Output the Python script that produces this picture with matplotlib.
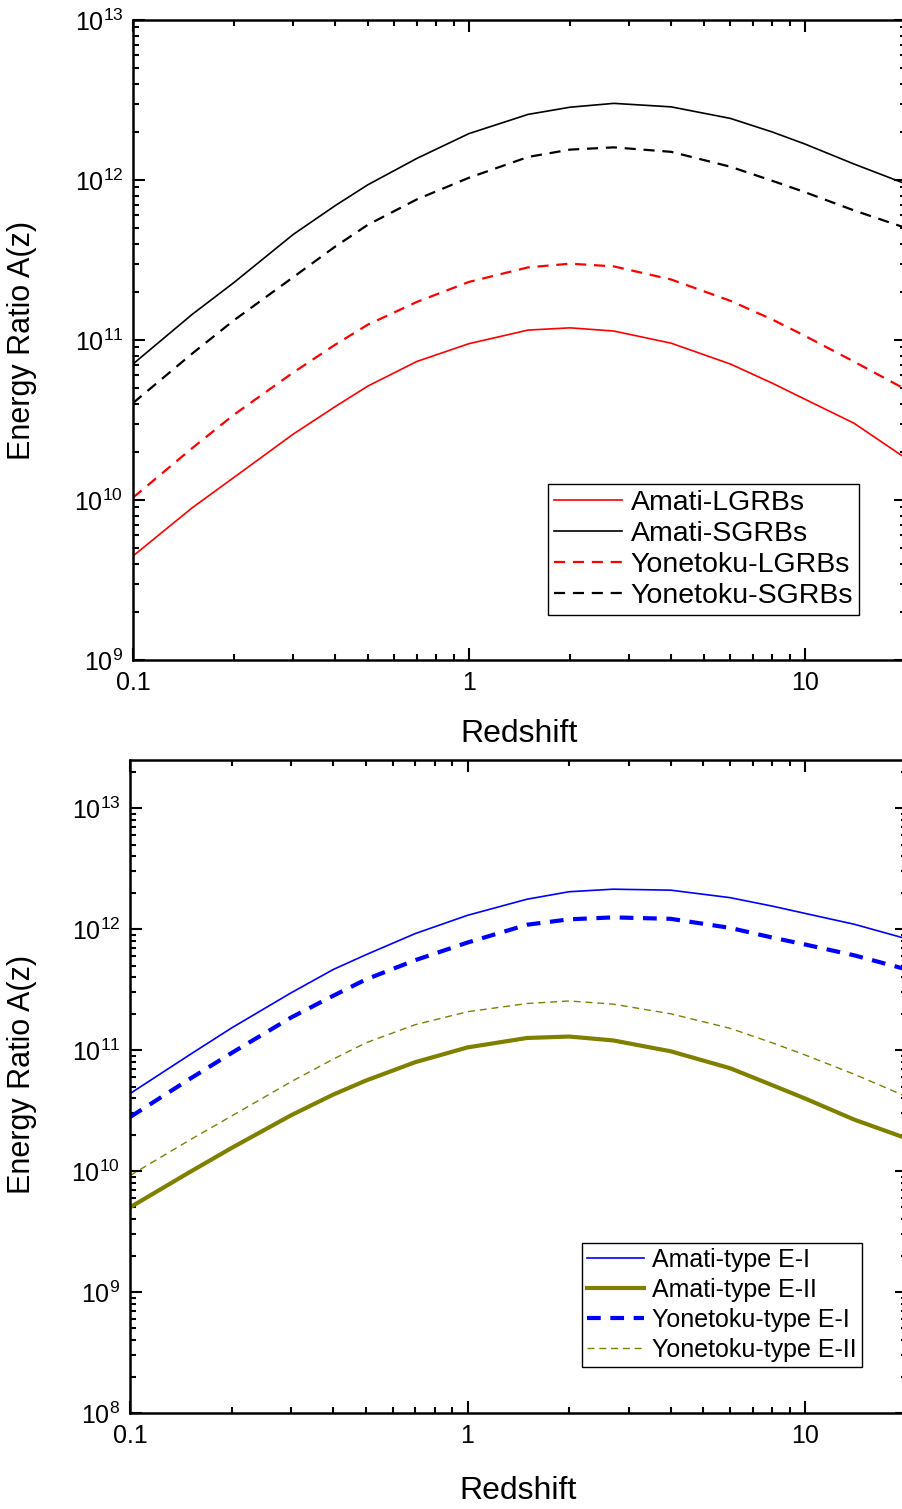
import numpy as np
import matplotlib
matplotlib.use("Agg")
import matplotlib.pyplot as plt
from matplotlib.ticker import LogLocator, NullFormatter

plt.rcParams['font.family'] = ['Liberation Sans', 'DejaVu Sans']
plt.rcParams['mathtext.default'] = 'regular'

# redshift grid the curves were read at
z = [0.1, 0.15, 0.2, 0.3, 0.4, 0.5, 0.7, 1, 1.5, 2, 2.7, 4, 6, 8, 10, 14, 20]

# top panel, log10 A(z)
logA_amati_lgrb = [9.65, 9.951, 10.142, 10.412, 10.584, 10.712, 10.866, 10.977, 11.062, 11.076, 11.056, 10.98, 10.85, 10.73, 10.63, 10.48, 10.26]
logA_amati_sgrb = [10.85, 11.16, 11.36, 11.66, 11.84, 11.97, 12.135, 12.29, 12.41, 12.455, 12.479, 12.457, 12.385, 12.30, 12.225, 12.10, 11.975]
logA_yone_lgrb = [10.015, 10.324, 10.534, 10.797, 10.971, 11.096, 11.238, 11.363, 11.454, 11.477, 11.46, 11.378, 11.245, 11.128, 11.026, 10.865, 10.69]
logA_yone_sgrb = [10.606, 10.915, 11.124, 11.393, 11.584, 11.72, 11.879, 12.014, 12.144, 12.19, 12.204, 12.176, 12.083, 11.995, 11.924, 11.81, 11.70]

# bottom panel
logA_amati_e1 = [10.64, 10.96, 11.183, 11.473, 11.666, 11.788, 11.963, 12.114, 12.247, 12.309, 12.33, 12.322, 12.26, 12.19, 12.13, 12.04, 11.92]
logA_amati_e2 = [9.70, 9.99, 10.191, 10.461, 10.632, 10.748, 10.90, 11.022, 11.10, 11.112, 11.08, 10.99, 10.85, 10.71, 10.60, 10.425, 10.27]
logA_yone_e1 = [10.446, 10.76, 10.976, 11.269, 11.449, 11.584, 11.743, 11.889, 12.036, 12.081, 12.097, 12.085, 12.01, 11.93, 11.873, 11.783, 11.667]
logA_yone_e2 = [9.963, 10.255, 10.455, 10.738, 10.925, 11.06, 11.21, 11.317, 11.385, 11.406, 11.38, 11.30, 11.18, 11.06, 10.96, 10.80, 10.615]

top_labels = ['Amati-LGRBs', 'Amati-SGRBs', 'Yonetoku-LGRBs', 'Yonetoku-SGRBs']
bottom_labels = ['Amati-type E-I', 'Amati-type E-II', 'Yonetoku-type E-I', 'Yonetoku-type E-II']


def style_axes(ax, ymin, ymax):
    ax.set_xscale('log')
    ax.set_yscale('log')
    ax.set_xlim(0.1, 20)
    ax.set_ylim(ymin, ymax)
    ax.yaxis.set_major_locator(LogLocator(base=10, numticks=20))
    ax.yaxis.set_minor_locator(LogLocator(base=10, subs=np.arange(2, 10), numticks=20))
    ax.yaxis.set_minor_formatter(NullFormatter())
    ax.xaxis.set_minor_formatter(NullFormatter())
    ax.tick_params(which='both', direction='in', top=True, right=True, width=1.5)
    ax.tick_params(which='major', length=8.5, labelsize=18)
    ax.tick_params(which='minor', length=4.5)
    ax.tick_params(axis='x', pad=8)
    ax.tick_params(axis='y', pad=7)
    for s in ax.spines.values():
        s.set_linewidth(1.8)
    ax.set_xticks([0.1, 1, 10])
    ax.set_xticklabels(['0.1', '1', '10'])
    ax.set_xlabel('Redshift', fontsize=23)
    ax.set_ylabel('Energy Ratio A(z)', fontsize=22)


fig = plt.figure(figsize=(9.03, 15.09), dpi=100)

# top panel
ax1 = fig.add_axes([133 / 903, 1 - 660 / 1509, (906 - 133) / 903, 640 / 1509])
ax1.plot(z, 10 ** np.array(logA_amati_lgrb), color='red', lw=1.2, label=top_labels[0])
ax1.plot(z, 10 ** np.array(logA_amati_sgrb), color='black', lw=1.2, label=top_labels[1])
ax1.plot(z, 10 ** np.array(logA_yone_lgrb), color='red', lw=1.6, ls=(0, (5, 3.5)), label=top_labels[2])
ax1.plot(z, 10 ** np.array(logA_yone_sgrb), color='black', lw=1.6, ls=(0, (5, 3.5)), label=top_labels[3])
style_axes(ax1, 1e9, 1e13)
ax1.xaxis.set_label_coords(0.5, -0.092)
ax1.yaxis.set_label_coords(-0.124, 0.5)
leg1 = ax1.legend(loc='upper left', bbox_to_anchor=(0.537, 0.275), borderaxespad=0,
                  fontsize=20.5, handlelength=2.4, labelspacing=0.18, handletextpad=0.3,
                  borderpad=0.2, fancybox=False, framealpha=1, edgecolor='black')
leg1.get_frame().set_linewidth(1.0)

# bottom panel
ax2 = fig.add_axes([130 / 903, 1 - 1413 / 1509, (906.6 - 130) / 903, 653 / 1509])
ax2.plot(z, 10 ** np.array(logA_amati_e1), color='#0000ff', lw=1.2, label=bottom_labels[0])
ax2.plot(z, 10 ** np.array(logA_amati_e2), color='#808000', lw=3.0, label=bottom_labels[1])
ax2.plot(z, 10 ** np.array(logA_yone_e1), color='#0000ff', lw=3.0, ls=(0, (3.3, 2.3)), label=bottom_labels[2])
ax2.plot(z, 10 ** np.array(logA_yone_e2), color='#808000', lw=1.0, ls=(0, (5, 3.5)), label=bottom_labels[3])
style_axes(ax2, 1e8, 2.5e13)
ax2.xaxis.set_label_coords(0.5, -0.096)
ax2.yaxis.set_label_coords(-0.12, 0.518)
leg2 = ax2.legend(loc='upper left', bbox_to_anchor=(0.582, 0.260), borderaxespad=0,
                  fontsize=18, handlelength=2.3, labelspacing=0.24, handletextpad=0.3,
                  borderpad=0.2, fancybox=False, framealpha=1, edgecolor='black')
leg2.get_frame().set_linewidth(1.0)

fig.savefig('out.png', dpi=100)
